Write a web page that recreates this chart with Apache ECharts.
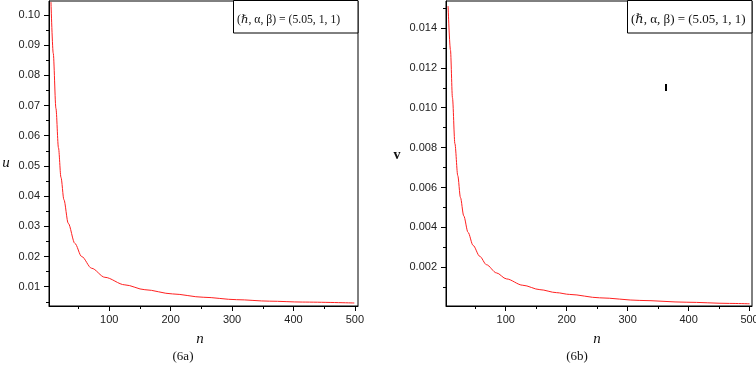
<!DOCTYPE html>
<html>
<head>
<meta charset="utf-8">
<script src="https://cdn.jsdelivr.net/npm/echarts@6/dist/echarts.min.js"></script>
<style>
html,body{margin:0;padding:0;background:#fff;}
#chart{width:756px;height:365px;}
</style>
</head>
<body>
<div id="chart"></div>
<script>
// ---- data ----
const nU = [5.2, 8.9, 13.3, 17.4, 21.5, 26.3, 33.3, 44.2, 55.1, 71.4, 93, 125.5, 158, 203, 253, 307, 361, 415, 499];
const uValues = [0.1043, 0.0873, 0.0690, 0.0560, 0.0462, 0.0388, 0.0310, 0.0243, 0.0200, 0.0161, 0.0131, 0.0106, 0.0090, 0.0076, 0.0065, 0.0057, 0.0052, 0.0049, 0.0046];
const nV = [5.4, 9.3, 12.6, 16.6, 21.3, 25.7, 31.1, 38.2, 46.4, 57.4, 68.4, 84.8, 101, 128, 156, 183, 205, 254, 320, 396, 467, 500];
const vValues = [0.0151, 0.0129, 0.0105, 0.0082, 0.0066, 0.0055, 0.00458, 0.00375, 0.00310, 0.00255, 0.00213, 0.00172, 0.00142, 0.00110, 0.00088, 0.00073, 0.00064, 0.00047, 0.00034, 0.00025, 0.00019, 0.00017];

const xTicks = [100, 200, 300, 400, 500];
const xMinorTicks = [50, 150, 250, 350, 450];
const uTicks = [0.01, 0.02, 0.03, 0.04, 0.05, 0.06, 0.07, 0.08, 0.09, 0.10];
const uMinorTicks = [0.005, 0.015, 0.025, 0.035, 0.045, 0.055, 0.065, 0.075, 0.085, 0.095];
const vTicks = [0.002, 0.004, 0.006, 0.008, 0.010, 0.012, 0.014];
const vMinorTicks = [0.001, 0.003, 0.005, 0.007, 0.009, 0.011, 0.013, 0.015];

const legendText = '(\u210F, \u03B1, \u03B2) = (5.05, 1, 1)';
const captions = ['(6a)', '(6b)'];
const axisNames = {x: 'n', u: 'u', v: 'v'};

// ---- chart ----
const chart = echarts.init(document.getElementById('chart'), null, {renderer: 'canvas'});
const labelFont = {fontFamily: 'Liberation Sans', fontSize: 11, color: '#222'};
const black = '#000';

function xAxes(gridIndex, max) {
  return [
    {
      type: 'value', gridIndex, min: 2, max,
      axisLine: {show: true, lineStyle: {color: black, width: 1}},
      axisTick: {show: true, customValues: xTicks, length: 5, inside: false, lineStyle: {color: black}},
      axisLabel: Object.assign({show: true, customValues: xTicks, margin: 8}, labelFont),
      splitLine: {show: false}
    },
    {
      type: 'value', gridIndex, min: 2, max, position: 'bottom',
      axisLine: {show: false},
      axisTick: {show: true, customValues: xMinorTicks, length: 3, lineStyle: {color: black}},
      axisLabel: {show: false},
      splitLine: {show: false}
    }
  ];
}
function yAxes(gridIndex, min, max, ticks, minors, digits) {
  return [
    {
      type: 'value', gridIndex, min, max,
      axisLine: {show: true, lineStyle: {color: black, width: 1}},
      axisTick: {show: true, customValues: ticks, length: 5, lineStyle: {color: black}},
      axisLabel: Object.assign({show: true, customValues: ticks, margin: 9,
        formatter: v => Number(v).toFixed(digits)}, labelFont),
      splitLine: {show: false}
    },
    {
      type: 'value', gridIndex, min, max, position: 'left',
      axisLine: {show: false},
      axisTick: {show: true, customValues: minors, length: 3, lineStyle: {color: black}},
      axisLabel: {show: false},
      splitLine: {show: false}
    }
  ];
}

const pairs = (xs, ys) => xs.map((x, i) => [x, ys[i]]);

const option = {
  animation: false,
  backgroundColor: '#fff',
  grid: [
    {left: 49, top: 1, width: 309, height: 305, show: true, borderColor: black, borderWidth: 1, containLabel: false, outerBoundsMode: 'none'},
    {left: 446, top: 1, width: 306, height: 305, show: true, borderColor: black, borderWidth: 1, containLabel: false, outerBoundsMode: 'none'}
  ],
  xAxis: [...xAxes(0, 505), ...xAxes(1, 504)],
  yAxis: [
    ...yAxes(0, 0.0036, 0.1046, uTicks, uMinorTicks, 2),
    ...yAxes(1, 0.00006, 0.01535, vTicks, vMinorTicks, 3)
  ],
  series: [
    {
      type: 'line', xAxisIndex: 0, yAxisIndex: 0, data: pairs(nU, uValues),
      showSymbol: false, smooth: 0.3, smoothMonotone: 'x', clip: true,
      lineStyle: {color: '#ff2020', width: 1}
    },
    {
      type: 'line', xAxisIndex: 2, yAxisIndex: 2, data: pairs(nV, vValues),
      showSymbol: false, smooth: 0.3, smoothMonotone: 'x', clip: true,
      lineStyle: {color: '#ff2020', width: 1}
    }
  ],
  graphic: [
    // annotation boxes
    {type: 'rect', shape: {x: 233.5, y: 0.5, width: 124.5, height: 32.5}, style: {fill: '#fff', stroke: black, lineWidth: 1}, z: 10},
    {type: 'text', x: 237, y: 20, style: {text: legendText, font: '11.7px "Liberation Serif", "DejaVu Serif", serif', fill: '#111', textVerticalAlign: 'middle'}, z: 11},
    {type: 'rect', shape: {x: 627.5, y: 0.5, width: 124.5, height: 32.5}, style: {fill: '#fff', stroke: black, lineWidth: 1}, z: 10},
    {type: 'text', x: 631, y: 20, style: {text: legendText, font: '13px "Liberation Serif", "DejaVu Serif", serif', fill: '#111', textVerticalAlign: 'middle'}, z: 11},
    // axis names
    {type: 'text', x: 200, y: 339, style: {text: axisNames.x, font: 'italic 15px "Liberation Serif", serif', fill: '#111', textAlign: 'center', textVerticalAlign: 'middle'}},
    {type: 'text', x: 597, y: 339, style: {text: axisNames.x, font: 'italic 15px "Liberation Serif", serif', fill: '#111', textAlign: 'center', textVerticalAlign: 'middle'}},
    {type: 'text', x: 6, y: 163, style: {text: axisNames.u, font: 'italic 15px "Liberation Serif", serif', fill: '#111', textAlign: 'center', textVerticalAlign: 'middle'}},
    {type: 'text', x: 397, y: 155, style: {text: axisNames.v, font: 'bold 14px "Liberation Serif", serif', fill: '#111', textAlign: 'center', textVerticalAlign: 'middle'}},
    // captions
    {type: 'text', x: 183, y: 357, style: {text: captions[0], font: '13px "Liberation Serif", serif', fill: '#111', textAlign: 'center', textVerticalAlign: 'middle'}},
    {type: 'text', x: 577, y: 357, style: {text: captions[1], font: '13px "Liberation Serif", serif', fill: '#111', textAlign: 'center', textVerticalAlign: 'middle'}},
    // small stray mark present in the reference
    {type: 'rect', shape: {x: 665, y: 84, width: 2, height: 7}, style: {fill: '#000'}}
  ]
};
chart.setOption(option);
</script>
</body>
</html>
